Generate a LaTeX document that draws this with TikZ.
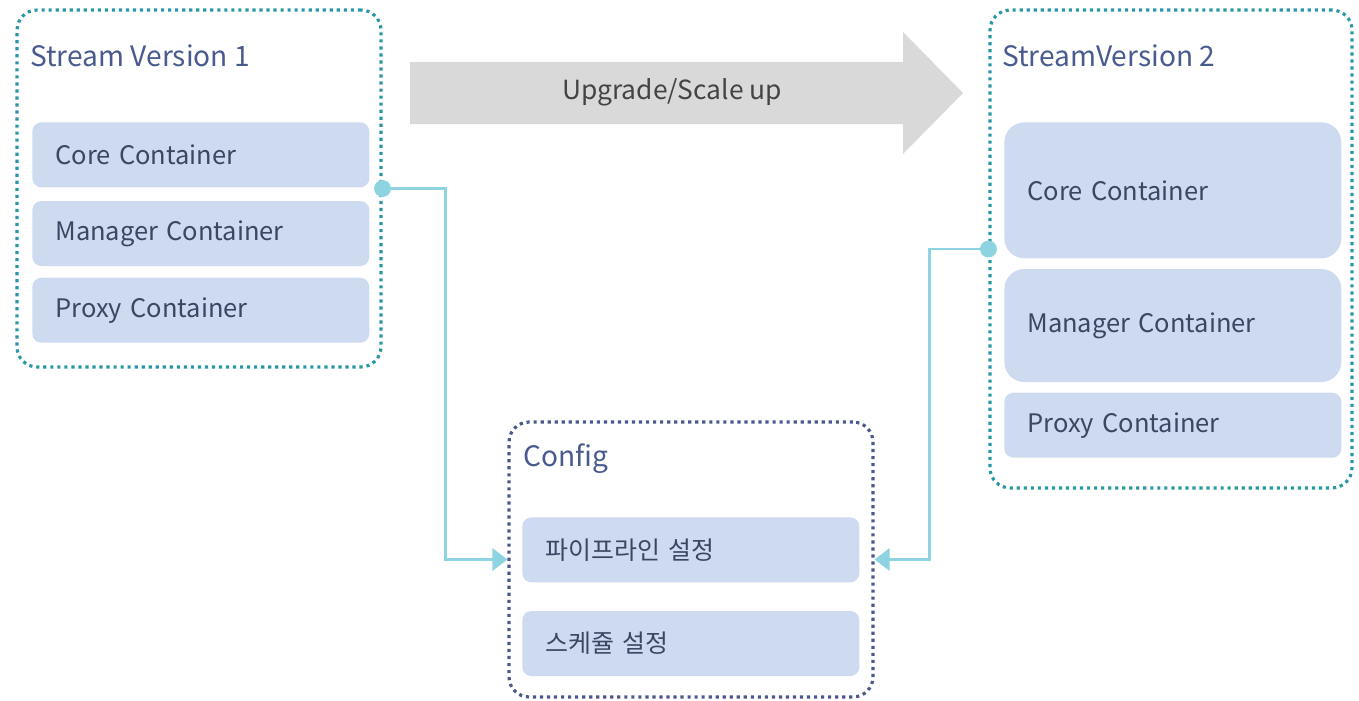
\documentclass[tikz,border=0pt]{standalone}
\usepackage{fontspec}
\setmainfont{Noto Sans CJK KR}
\usepackage{xcolor}
\usepackage{tikz}
\usetikzlibrary{positioning, calc, arrows.meta}
\definecolor{StreamTeal}{RGB}{40,152,166}
\definecolor{ConfigNavy}{RGB}{74,88,140}
\definecolor{BoxFill}{RGB}{206,218,240}
\definecolor{BoxText}{RGB}{60,70,98}
\definecolor{TitleBlue}{RGB}{72,90,142}
\definecolor{LinkCyan}{RGB}{141,212,224}
\definecolor{UpgGray}{RGB}{217,217,217}
\definecolor{UpgText}{RGB}{68,68,68}
\tikzset{
    groupbox/.style={
        draw, rounded corners=0.4cm, line width=1.8pt,
        dash pattern=on 1.8pt off 2.2pt, minimum width=7.28cm
    },
    grouptitle/.style={
        anchor=base west, inner sep=0pt, font=\fontsize{16}{18}\selectfont, text=TitleBlue
    },
    containerbox/.style={
        anchor=north west, fill=BoxFill, rounded corners=0.18cm,
        minimum height=1.3cm, text width=5.82cm, inner xsep=0.46cm, inner ysep=0pt,
        align=left, font=\fontsize{14.5}{17}\selectfont, text=BoxText
    },
    linkptr/.style={
        draw=LinkCyan, line width=1.7pt, -{Triangle[length=0.3cm, width=0.44cm]}
    }
}

\begin{document}
\begin{tikzpicture}[x=0.02cm, y=-0.02cm,
            % kleine Box im Korea-Text
            hangulbox/.style={containerbox, font=\fontsize{14.2}{17}\selectfont}
        ]
            \useasboundingbox (0,0) rectangle (1359,700);

            % --- 1. GROUPS ---
            \node[groupbox, draw=StreamTeal, minimum height=7.14cm] (sv1) at (199,188.5) {};
            \node[groupbox, draw=StreamTeal, minimum width=7.24cm, minimum height=9.56cm] (sv2) at (1171,249) {};
            \node[groupbox, draw=ConfigNavy, minimum height=5.5cm] (cfg) at (691,559.5) {};

            \node[grouptitle] (sv1title) at (30,66) {Stream Version 1};
            \node[grouptitle] (sv2title) at (1002,66) {StreamVersion 2};
            \node[grouptitle] (cfgtitle) at (523,466) {Config};

            % --- 2. CONTAINERS ---
            \node[containerbox] (core1) at (32,122) {Core Container};
            \node[containerbox, below=0.26cm of core1] (mgr1) {Manager Container};
            \node[containerbox, below=0.22cm of mgr1] (prx1) {Proxy Container};

            \node[containerbox, minimum height=2.72cm, rounded corners=0.4cm] (core2) at (1004,122) {Core Container};
            \node[containerbox, minimum height=2.26cm, rounded corners=0.4cm, below=0.2cm of core2] (mgr2) {Manager Container};
            \node[containerbox, below=0.2cm of mgr2] (prx2) {Proxy Container};

            \node[hangulbox] (pipe) at (522,517) {파이프라인 설정};
            \node[hangulbox, below=0.56cm of pipe] (sched) {스케쥴 설정};

            % --- 3. UPGRADE ARROW ---
            \fill[UpgGray] (410,62) -- (903,62) -- (903,32) -- (963,93) -- (903,154) -- (903,124) -- (410,124) -- cycle;
            \node[font=\fontsize{15}{18}\selectfont, text=UpgText] (upg) at (672,92) {Upgrade/Scale up};

            % --- 4. LINKS ---
            \draw[linkptr] (sv1.east) -- ++(63,0) |- (cfg.west);
            \draw[linkptr] (sv2.west) -- ++(-59,0) |- (cfg.east);
            \fill[LinkCyan] (sv1.east) circle[radius=0.17cm];
            \fill[LinkCyan] (sv2.west) circle[radius=0.17cm];

        \end{tikzpicture}
\end{document}
